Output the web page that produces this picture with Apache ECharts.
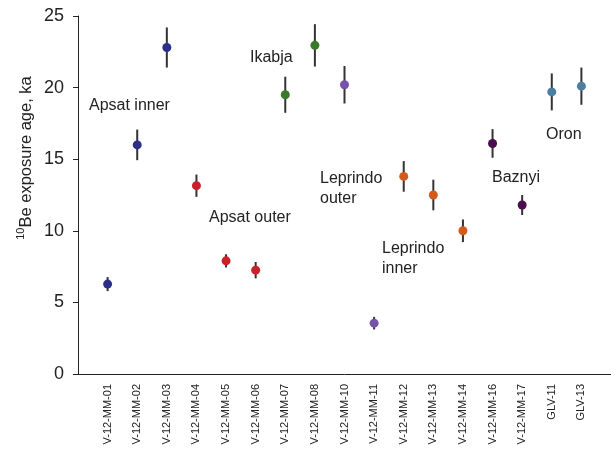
<!DOCTYPE html>
<html>
<head>
<meta charset="utf-8">
<script src="https://cdn.jsdelivr.net/npm/echarts@6/dist/echarts.min.js"></script>
<style>
html,body{margin:0;padding:0;background:#fff;}
#chart{width:611px;height:457px;}
</style>
</head>
<body>
<div id="chart"></div>
<script>
// ---- data ----
var categories = ['V-12-MM-01','V-12-MM-02','V-12-MM-03','V-12-MM-04','V-12-MM-05','V-12-MM-06','V-12-MM-07','V-12-MM-08','V-12-MM-10','V-12-MM-11','V-12-MM-12','V-12-MM-13','V-12-MM-14','V-12-MM-16','V-12-MM-17','GLV-11','GLV-13'];
var ages   = [6.28, 16.0, 22.8, 13.15, 7.9, 7.25, 19.5, 22.95, 20.2, 3.55, 13.8, 12.5, 10.0, 16.1, 11.8, 19.7, 20.1];
var errors = [0.49, 1.07, 1.4, 0.78, 0.46, 0.57, 1.26, 1.48, 1.31, 0.44, 1.07, 1.07, 0.79, 1.0, 0.7, 1.29, 1.3];
var groups = ['Apsat inner','Apsat inner','Apsat inner','Apsat outer','Apsat outer','Apsat outer','Ikabja','Ikabja','Leprindo outer','Leprindo outer','Leprindo inner','Leprindo inner','Leprindo inner','Baznyi','Baznyi','Oron','Oron'];
var groupNames = ['Apsat inner','Apsat outer','Ikabja','Leprindo outer','Leprindo inner','Baznyi','Oron'];
var yTicks = [0, 5, 10, 15, 20, 25];

// ---- styles ----
var groupColors = {
  'Apsat inner': '#2b2f8a',
  'Apsat outer': '#c9202a',
  'Ikabja': '#3a7a2b',
  'Leprindo outer': '#7553a8',
  'Leprindo inner': '#d35a1c',
  'Baznyi': '#4a0d4e',
  'Oron': '#4a7fa2'
};
var groupLabelPos = {
  'Apsat inner': [89, 105],
  'Apsat outer': [209, 217],
  'Ikabja': [250, 57],
  'Leprindo outer': [320, 188],
  'Leprindo inner': [382, 258],
  'Baznyi': [492, 177],
  'Oron': [546, 134]
};
var groupLabelText = {
  'Apsat inner': 'Apsat inner',
  'Apsat outer': 'Apsat outer',
  'Ikabja': 'Ikabja',
  'Leprindo outer': 'Leprindo\nouter',
  'Leprindo inner': 'Leprindo\ninner',
  'Baznyi': 'Baznyi',
  'Oron': 'Oron'
};

var FONT = 'Liberation Sans, Arial, sans-serif';

var errData = ages.map(function (a, i) { return [i + 1, a - errors[i], a + errors[i]]; });

var series = [{
  type: 'custom',
  z: 1,
  data: errData,
  renderItem: function (params, api) {
    var x = api.value(0);
    var lo = api.coord([x, api.value(1)]);
    var hi = api.coord([x, api.value(2)]);
    return {
      type: 'line',
      shape: { x1: lo[0], y1: lo[1], x2: hi[0], y2: hi[1] },
      style: { stroke: '#333333', lineWidth: 2 }
    };
  },
  encode: { x: 0, y: [1, 2] },
  silent: true
}];

groupNames.forEach(function (g) {
  var d = [];
  ages.forEach(function (a, i) { if (groups[i] === g) d.push([i + 1, a]); });
  series.push({
    type: 'scatter',
    name: g,
    z: 3,
    data: d,
    symbol: 'circle',
    symbolSize: 9,
    itemStyle: { color: groupColors[g], opacity: 1 },
    silent: true
  });
});

var graphics = groupNames.map(function (g) {
  return {
    type: 'text',
    left: groupLabelPos[g][0],
    top: groupLabelPos[g][1] - (groupLabelText[g].indexOf('\n') >= 0 ? 19 : 9),
    style: {
      text: groupLabelText[g],
      font: '16px ' + FONT,
      fill: '#222',
      lineHeight: 20
    }
  };
});

// y-axis title
graphics.push({
  type: 'text',
  x: 26,
  y: 158,
  rotation: Math.PI / 2,
  style: {
    text: '{sup|10}{n|Be exposure age, ka}',
    align: 'center',
    verticalAlign: 'middle',
    rich: {
      sup: { fontSize: 11, fontFamily: FONT, fill: '#222', color: '#222', verticalAlign: 'top', lineHeight: 16 },
      n: { fontSize: 16.5, fontFamily: FONT, fill: '#222', color: '#222', lineHeight: 22 }
    }
  }
});

var chart = echarts.init(document.getElementById('chart'), null, { renderer: 'canvas' });
chart.setOption({
  backgroundColor: '#ffffff',
  animation: false,
  grid: { left: 78, right: 0, top: 16, bottom: 83, containLabel: false },
  xAxis: {
    type: 'value',
    min: 0,
    max: 18,
    interval: 1,
    splitLine: { show: false },
    axisLine: { show: true, onZero: false, lineStyle: { color: '#222', width: 1 } },
    axisTick: { show: false },
    axisLabel: {
      rotate: 90,
      margin: 10,
      fontSize: 11,
      fontFamily: FONT,
      color: '#222',
      showMinLabel: false,
      showMaxLabel: false,
      formatter: function (v) {
        var i = Math.round(v) - 1;
        return (i >= 0 && i < categories.length) ? categories[i] : '';
      }
    }
  },
  yAxis: {
    type: 'value',
    min: yTicks[0],
    max: yTicks[yTicks.length - 1],
    interval: 5,
    splitLine: { show: false },
    axisLine: { show: true, lineStyle: { color: '#222', width: 1 } },
    axisTick: { show: true, inside: false, length: 5, lineStyle: { color: '#222', width: 1 } },
    axisLabel: { fontSize: 18, fontFamily: FONT, color: '#222', margin: 14 }
  },
  series: series,
  graphic: graphics
});
</script>
</body>
</html>
